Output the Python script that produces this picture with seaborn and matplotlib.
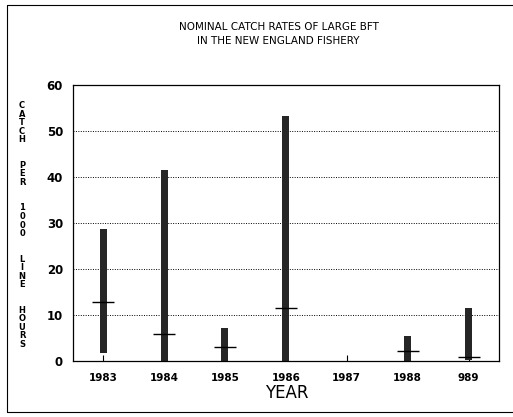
import numpy as np
import pandas as pd
import matplotlib
matplotlib.use("Agg")
import matplotlib.pyplot as plt
from matplotlib.lines import Line2D
import seaborn as sns

# Nominal catch rates (per 1000 line hours): range and mean by year
years = ["1983", "1984", "1985", "1986", "1987", "1988", "989"]
rate_low = [1.8, 0.0, 0.0, 0.0, np.nan, 0.0, 0.3]
rate_high = [28.7, 41.6, 7.1, 53.3, np.nan, 5.4, 11.5]
rate_mean = [12.8, 5.8, 3.0, 11.5, np.nan, 2.2, 0.9]
y_ticks = [0, 10, 20, 30, 40, 50, 60]

df = pd.DataFrame({
    "year": years,
    "low": rate_low,
    "high": rate_high,
    "mean": rate_mean,
})
df["span"] = df["high"] - df["low"]
obs = df.dropna()

sns.set_style("white")
plt.rcParams["font.family"] = ["DejaVu Sans"]
plt.rcParams["text.color"] = "black"
plt.rcParams["xtick.color"] = "black"
plt.rcParams["ytick.color"] = "black"

fig = plt.figure(figsize=(5.13, 4.17), dpi=100)
ax = fig.add_axes([0.1417, 0.1343, 0.9727 - 0.1417, 0.796 - 0.1343])

# Range bars, stacked on each year's minimum
sns.barplot(data=obs, x="year", y="span", order=years, bottom=obs["low"].values,
            color="#262626", width=0.115, saturation=1, linewidth=0, ax=ax)

# Mean marks
sns.scatterplot(data=obs, x="year", y="mean", marker="_", s=270,
                color="black", linewidth=1.0, ax=ax, zorder=4)

ax.set_xlim(-0.5, 6.5)
ax.set_ylim(0, 60)
ax.set_yticks(y_ticks)
ax.set_yticklabels([str(t) for t in y_ticks], fontsize=8.5, fontweight="bold")
ax.set_xticks(range(len(years)))
ax.set_xticklabels(years, fontsize=7.5, fontweight="bold")
ax.tick_params(axis="x", bottom=True, direction="in", length=4, width=0.8, pad=9,
               color="black", labelcolor="black")
ax.tick_params(axis="y", length=0, pad=7, labelcolor="black")

for v in y_ticks[1:-1]:
    ax.axhline(v, color="black", linestyle=(0, (1, 1.5)), linewidth=0.7, zorder=0)

for s in ax.spines.values():
    s.set_visible(True)
    s.set_color("black")
    s.set_linewidth(0.9)

ax.set_xlabel("")
ax.set_ylabel("")

fig.text(0.559, 1 - 393 / 417, "YEAR", ha="center", va="center", fontsize=12)
fig.text(0.543, 1 - 27 / 417, "NOMINAL CATCH RATES OF LARGE BFT", ha="center",
         va="center", fontsize=7.5)
fig.text(0.543, 1 - 41 / 417, "IN THE NEW ENGLAND FISHERY", ha="center",
         va="center", fontsize=7.5)

ylab = "CATCH PER 1000 LINE HOURS".replace(" ", "  ")
fig.text(22 / 513, 1 - 225 / 417, "\n".join(ylab), ha="center", va="center",
         fontsize=6, fontweight="bold", linespacing=0.93)

# Page border
fig.add_artist(Line2D([7 / 513, 7 / 513], [1 - 5 / 417, 1 - 412 / 417],
                      transform=fig.transFigure, color="black", linewidth=0.8))
fig.add_artist(Line2D([7 / 513, 1], [1 - 5 / 417, 1 - 5 / 417],
                      transform=fig.transFigure, color="black", linewidth=0.8))
fig.add_artist(Line2D([7 / 513, 1], [1 - 412 / 417, 1 - 412 / 417],
                      transform=fig.transFigure, color="black", linewidth=0.8))

fig.savefig("out.png", dpi=100)
